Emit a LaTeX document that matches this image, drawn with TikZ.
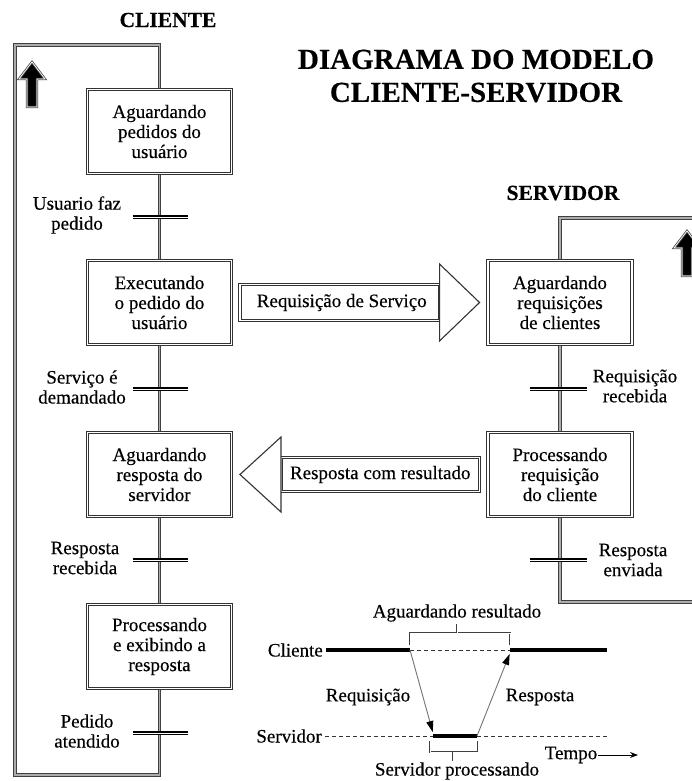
\documentclass[tikz,border=0pt]{standalone}
\usepackage{fontspec}
\setmainfont{Liberation Serif}[FakeBold=0.35]
\usetikzlibrary{arrows.meta,calc,backgrounds}

\newcommand\bodyfont{\fontsize{19}{20}\selectfont}
\newcommand\headfont{\fontsize{21.5}{24}\selectfont\bfseries}
\newcommand\titlefont{\fontsize{29}{33}\selectfont\bfseries}

\tikzset{
  stbox/.style={draw=black!80, line width=0.9pt, double=white, double distance=1.3pt,
    fill=white, minimum width=144, minimum height=84, align=center, font=\bodyfont, inner sep=2pt},
  flow/.style={draw=black!75, line width=1pt, double=gray!65, double distance=1.6pt},
  trans/.style={draw=black, line width=1.4pt, double=white, double distance=1pt},
  lbl/.style={font=\bodyfont, align=center, inner sep=1pt},
  shafttext/.style={font=\bodyfont, inner sep=0pt},
  shaft/.style={draw=black!80, line width=0.9pt, double=white, double distance=1.3pt, fill=white},
  headtri/.style={draw=black!80, line width=1.1pt, fill=white, line join=miter},
  busy/.style={line width=3.6pt},
  idle/.style={line width=0.7pt, dash pattern=on 4pt off 3pt, draw=black!80},
  msg/.style={draw=black!55, line width=0.9pt, shorten >=1pt,
    -{Triangle[length=11pt,width=7pt,color=black]}},
  brk/.style={draw=black!75, line width=0.7pt, double=white, double distance=0.9pt},
  uparr/.pic={
    \filldraw[draw=black!70, line width=0.8pt, double=white, double distance=0.7pt, fill=black]
      (0,0) -- (13,17) -- (5,17) -- (5,45) -- (-5,45) -- (-5,17) -- (-13,17) -- cycle;
  },
}

\begin{document}
\begin{tikzpicture}[x=1pt, y=-1pt]
\useasboundingbox (0,0) rectangle (692,781);
\clip (0,0) rectangle (692,781);

% titles
\node[font=\titlefont, align=center] (title) at (476,76) {DIAGRAMA DO MODELO\\CLIENTE-SERVIDOR};
\node[font=\headfont] (hcli) at (168,20) {CLIENTE};
\node[font=\headfont] (hsrv) at (563,193) {SERVIDOR};

% client states
\node[stbox] (c1) at (159.5,131.5) {Aguardando\\pedidos do\\usuário};
\node[stbox] (c2) at (159.5,302.5) {Executando\\o pedido do\\usuário};
\node[stbox] (c3) at (159.5,474.5) {Aguardando\\resposta do\\servidor};
\node[stbox] (c4) at (159.5,646.5) {Processando\\e exibindo a\\resposta};

% server states
\node[stbox] (s1) at (560,302.5) {Aguardando\\requisições\\de clientes};
\node[stbox] (s2) at (560,474.5) {Processando\\requisição\\do cliente};

% flow lines behind the states
\begin{scope}[on background layer]
  \fill[white] (0,0) rectangle (692,781);
  \draw[flow] (c1) -- (c2) -- (c3) -- (c4);
  \draw[flow] (c4.center) -- (159.5,775) -| (15,45) -| (c1.center);
  \draw[flow] (s1) -- (s2);
  \draw[flow] (s2.center) |- (700,602);
  \draw[flow] (s1.center) |- (700,218);
\end{scope}

% loop-back arrows
\pic at (32,62) {uparr};
\pic at (687,231) {uparr};

% client transitions
\foreach \ty/\lx/\txt in {217/77/{Usuario faz\\pedido}, 389/82/{Serviço é\\demandado},
                          560/85/{Resposta\\recebida}, 733/87/{Pedido\\atendido}}{
  \draw[trans] (132.5,\ty) -- (188,\ty);
  \node[lbl] at (\lx,\ty-2) {\txt};
}
% server transitions
\draw[trans] (530,389) -- (587,389);
\node[lbl] (trs1) at (635,386) {Requisição\\recebida};
\draw[trans] (530,560) -- (587,560);
\node[lbl] (trs2) at (633,560) {Resposta\\enviada};

% request block arrow: client -> server
\coordinate (rqa) at ($(c2.east)+(8,-18)$);
\coordinate (rqb) at ($(s1.west)+(-48,18)$);
\draw[shaft] (rqa) rectangle (rqb);
\node[shafttext] (req) at ($(rqa)!0.5!(rqb)+(2,0)$) {Requisição de Serviço};
\draw[headtri] ($(rqb |- s1.north)+(0,4)$) -- ($(s1.west)+(-8,0)$)
  -- ($(rqb |- s1.south)+(0,-4)$) -- cycle;

% response block arrow: server -> client
\coordinate (rsa) at ($(c3.east)+(49,-17)$);
\coordinate (rsb) at ($(s2.west)+(-8,17)$);
\draw[shaft] (rsa) rectangle (rsb);
\node[shafttext] (resp) at ($(rsa)!0.5!(rsb)$) {Resposta com resultado};
\draw[headtri] ($(rsa |- c3.north)+(0,5)$) -- ($(c3.east)+(8,0)$)
  -- ($(rsa |- c3.south)+(0,-5)$) -- cycle;

% timing diagram
\coordinate (cl0) at (326,650);
\coordinate (cl1) at (410,650);
\coordinate (cl2) at (510,650);
\coordinate (cl3) at (607,650);
\coordinate (sv0) at (325,736);
\coordinate (sv1) at (433,736);
\coordinate (sv2) at (477,736);
\coordinate (sv3) at (607,736);

\draw[busy] (cl0) -- (cl1);
\draw[idle] (cl1) -- (cl2);
\draw[busy] (cl2) -- (cl3);
\draw[idle] (sv0) -- (sv1);
\draw[busy] (sv1) -- (sv2);
\draw[idle] (sv2) -- (sv3);

\node[lbl, anchor=east, inner sep=3pt] (lcli) at (cl0) {Cliente};
\node[lbl, anchor=east, inner sep=3pt] (lsrv) at (sv0) {Servidor};

\draw[msg] (cl1) -- ($(sv1)+(0,-3)$);
\draw[msg] (sv2) -- ($(cl2)+(0,3)$);
\node[lbl] (lreq) at (368,697) {Requisição};
\node[lbl] (lresp) at (540,697) {Resposta};

\draw[brk] (410,645) -- (410,633) -- (510,633) -- (510,645);
\draw[brk] (457,633) -- (457,624);
\node[lbl] (lwait) at (457,613) {Aguardando resultado};

\draw[brk] (430,741) -- (430,752) -- (478,752) -- (478,741);
\draw[brk] (453,752) -- (453,761);
\node[lbl] (lproc) at (457,771) {Servidor processando};

\node[lbl] (ltime) at (571,755) {Tempo};
\coordinate (tend) at (638,755);
\draw[line width=0.8pt, -{Stealth[length=8pt,width=6pt]}] (ltime.east) -- (tend);
\end{tikzpicture}
\end{document}
